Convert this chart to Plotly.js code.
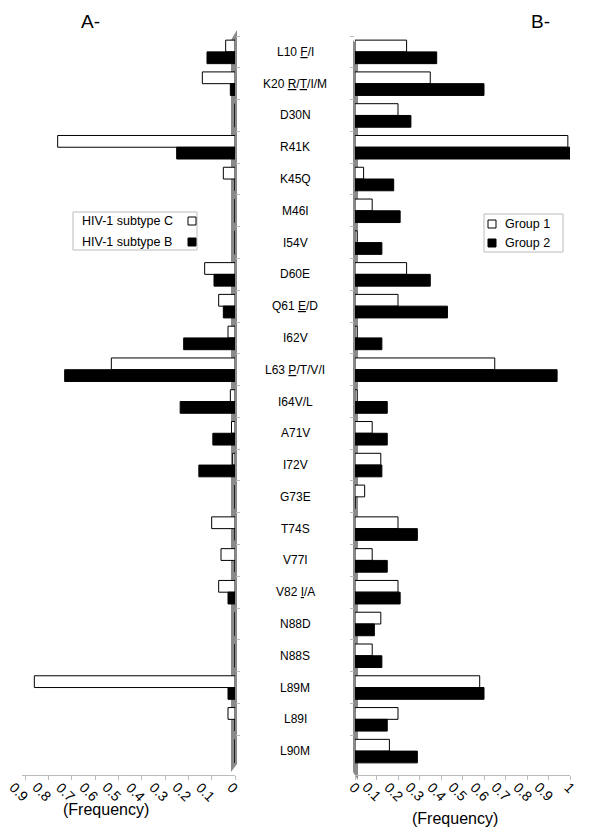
<!DOCTYPE html>
<html>
<head>
<meta charset="utf-8">
<script src="https://cdn.plot.ly/plotly-3.0.1.min.js"></script>
<style>html,body{margin:0;padding:0;background:#fff;}#chart{width:600px;height:836px;}</style>
</head>
<body>
<div id="chart"></div>
<script>
// ---- data ----
const mutations = ["L10 F/I","K20 R/T/I/M","D30N","R41K","K45Q","M46I","I54V","D60E","Q61 E/D","I62V",
  "L63 P/T/V/I","I64V/L","A71V","I72V","G73E","T74S","V77I","V82 I/A","N88D","N88S","L89M","L89I","L90M"];
const U = s => "<span style='text-decoration:underline'>" + s + "</span>";
const mutationLabels = ["L10 " + U("F") + "/I",
  "K20 " + U("R") + "/" + U("T") + "/I/M",
  "D30N","R41K","K45Q","M46I","I54V","D60E",
  "Q61 " + U("E") + "/D","I62V",
  "L63 " + U("P") + "/T/V/I","I64V/L","A71V","I72V","G73E","T74S","V77I",
  "V82 " + U("I") + "/A","N88D","N88S","L89M","L89I","L90M"];

const subtypeCName = "HIV-1 subtype C";
const subtypeBName = "HIV-1 subtype B";
const subtypeC = [0.04,0.14,0,0.76,0.05,0,0,0.13,0.07,0.03,0.53,0.02,0.015,0.01,0,0.10,0.06,0.07,0,0,0.86,0.03,0];
const subtypeB = [0.12,0.02,0,0.25,0,0,0,0.09,0.05,0.22,0.73,0.235,0.095,0.155,0,0,0,0.03,0,0,0.03,0,0];

const group1Name = "Group 1";
const group2Name = "Group 2";
const group1 = [0.24,0.35,0.20,0.99,0.04,0.08,0.01,0.24,0.20,0.01,0.65,0.01,0.08,0.12,0.045,0.20,0.08,0.20,0.12,0.08,0.58,0.20,0.16];
const group2 = [0.38,0.60,0.26,1.00,0.18,0.21,0.125,0.35,0.43,0.125,0.94,0.15,0.15,0.125,0,0.29,0.15,0.21,0.09,0.125,0.60,0.15,0.29];

const leftTicks = [0,0.1,0.2,0.3,0.4,0.5,0.6,0.7,0.8,0.9];
const rightTicks = [0,0.1,0.2,0.3,0.4,0.5,0.6,0.7,0.8,0.9,1];

// ---- helpers (pixel -> paper) ----
const W = 600, H = 836;
const px = x => x / W;
const py = y => 1 - y / H;
const FONT = "Liberation Sans, Arial, sans-serif";

const barLine = {color: "#000", width: 1};
const traces = [
  {type:"bar", orientation:"h", name:subtypeCName, y:mutations, x:subtypeC, xaxis:"x", yaxis:"y",
   marker:{color:"#fff", line:barLine}},
  {type:"bar", orientation:"h", name:subtypeBName, y:mutations, x:subtypeB, xaxis:"x", yaxis:"y",
   marker:{color:"#000", line:barLine}},
  {type:"bar", orientation:"h", name:group1Name, y:mutations, x:group1, xaxis:"x2", yaxis:"y2",
   marker:{color:"#fff", line:barLine}},
  {type:"bar", orientation:"h", name:group2Name, y:mutations, x:group2, xaxis:"x2", yaxis:"y2",
   marker:{color:"#000", line:barLine}}
];

const yDomain = [py(767), py(36)];

const annotations = [];
mutations.forEach((m, i) => {
  annotations.push({xref:"paper", yref:"y", x:px(295), y:m, text:mutationLabels[i], showarrow:false,
    xanchor:"center", yanchor:"middle", font:{family:FONT, size:12, color:"#000"}});
});
annotations.push({xref:"paper", yref:"paper", x:px(90), y:py(21), text:"A-", showarrow:false,
  font:{family:FONT, size:19, color:"#000"}, xanchor:"center", yanchor:"middle"});
annotations.push({xref:"paper", yref:"paper", x:px(540), y:py(21), text:"B-", showarrow:false,
  font:{family:FONT, size:19, color:"#000"}, xanchor:"center", yanchor:"middle"});
annotations.push({xref:"paper", yref:"paper", x:px(106), y:py(809), text:"(Frequency)", showarrow:false,
  font:{family:FONT, size:16, color:"#000"}, xanchor:"center", yanchor:"middle"});
annotations.push({xref:"paper", yref:"paper", x:px(455), y:py(818), text:"(Frequency)", showarrow:false,
  font:{family:FONT, size:16, color:"#000"}, xanchor:"center", yanchor:"middle"});

// slanted tick labels, end-anchored at each tick (placed through the axis scale)
leftTicks.forEach(v => annotations.push({xref:"x", yref:"paper", x:v, y:py(778), text:String(v),
  showarrow:false, textangle:45, xanchor:"right", yanchor:"top", xshift:8, borderpad:0,
  font:{family:FONT, size:14, color:"#000"}}));
rightTicks.forEach(v => annotations.push({xref:"x2", yref:"paper", x:v, y:py(778), text:String(v),
  showarrow:false, textangle:45, xanchor:"right", yanchor:"top", xshift:10, borderpad:0,
  font:{family:FONT, size:14, color:"#000"}}));

// manual legends built from the series names
const legendItems = [
  {name:subtypeCName, fill:"#fff", textX:80, keyX:188, y:221},
  {name:subtypeBName, fill:"#000", textX:80, keyX:188, y:242},
  {name:group1Name, fill:"#fff", textX:503, keyX:488, y:224},
  {name:group2Name, fill:"#000", textX:503, keyX:488, y:243}
];
const shapes = [
  {type:"rect", xref:"paper", yref:"paper", x0:px(73), x1:px(197), y0:py(250), y1:py(212),
   line:{color:"#bbb", width:1}, fillcolor:"rgba(0,0,0,0)"},
  {type:"rect", xref:"paper", yref:"paper", x0:px(484), x1:px(563), y0:py(252), y1:py(214),
   line:{color:"#bbb", width:1}, fillcolor:"rgba(0,0,0,0)"},
  // walls
  {type:"path", xref:"paper", yref:"paper", layer:"below",
   path:`M ${px(231)} ${py(772)} L ${px(231)} ${py(40)} L ${px(237)} ${py(30)} L ${px(237)} ${py(764)} Z`,
   fillcolor:"#8a8a8a", line:{width:0}},
  {type:"path", xref:"paper", yref:"paper", layer:"below",
   path:`M ${px(353)} ${py(40)} L ${px(358)} ${py(46)} L ${px(358)} ${py(780)} L ${px(353)} ${py(772)} Z`,
   fillcolor:"#8a8a8a", line:{width:0}}
];
legendItems.forEach(it => {
  annotations.push({xref:"paper", yref:"paper", x:px(it.textX), y:py(it.y), text:it.name, showarrow:false,
    xanchor:"left", yanchor:"middle", font:{family:FONT, size:12.5, color:"#000"}});
  shapes.push({type:"rect", xref:"paper", yref:"paper", x0:px(it.keyX), x1:px(it.keyX + 8),
    y0:py(it.y + 4), y1:py(it.y - 4), line:{color:"#000", width:1}, fillcolor:it.fill});
});

const xCommon = {anchor:"free", position:py(775), showgrid:false, zeroline:false, autorange:false,
  showline:true, linecolor:"#bbb", linewidth:1, ticks:"outside", ticklen:4, tickcolor:"#bbb",
  showticklabels:false};
const yCommon = {domain:yDomain, type:"category", autorange:"reversed",
  showticklabels:false, showgrid:false, zeroline:false, showline:false,
  ticks:"outside", tickson:"boundaries", ticklen:4, tickcolor:"#bbb"};

const layout = {
  width: W, height: H,
  margin:{l:0, r:0, t:0, b:0},
  paper_bgcolor:"#fff", plot_bgcolor:"rgba(0,0,0,0)",
  font:{family:FONT, color:"#000"},
  barmode:"group", bargap:0.26, bargroupgap:0,
  showlegend:false,
  xaxis:Object.assign({}, xCommon, {domain:[px(22), px(235)], range:[0.9*(235-22)/210, 0],
    tickvals:leftTicks}),
  yaxis:Object.assign({}, yCommon, {anchor:"x", side:"right"}),
  xaxis2:Object.assign({}, xCommon, {domain:[px(355), px(570)], range:[0, 1],
    tickvals:rightTicks}),
  yaxis2:Object.assign({}, yCommon, {anchor:"x2", side:"left"}),
  annotations: annotations,
  shapes: shapes
};

Plotly.newPlot("chart", traces, layout, {displayModeBar:false, staticPlot:true});
</script>
</body>
</html>
